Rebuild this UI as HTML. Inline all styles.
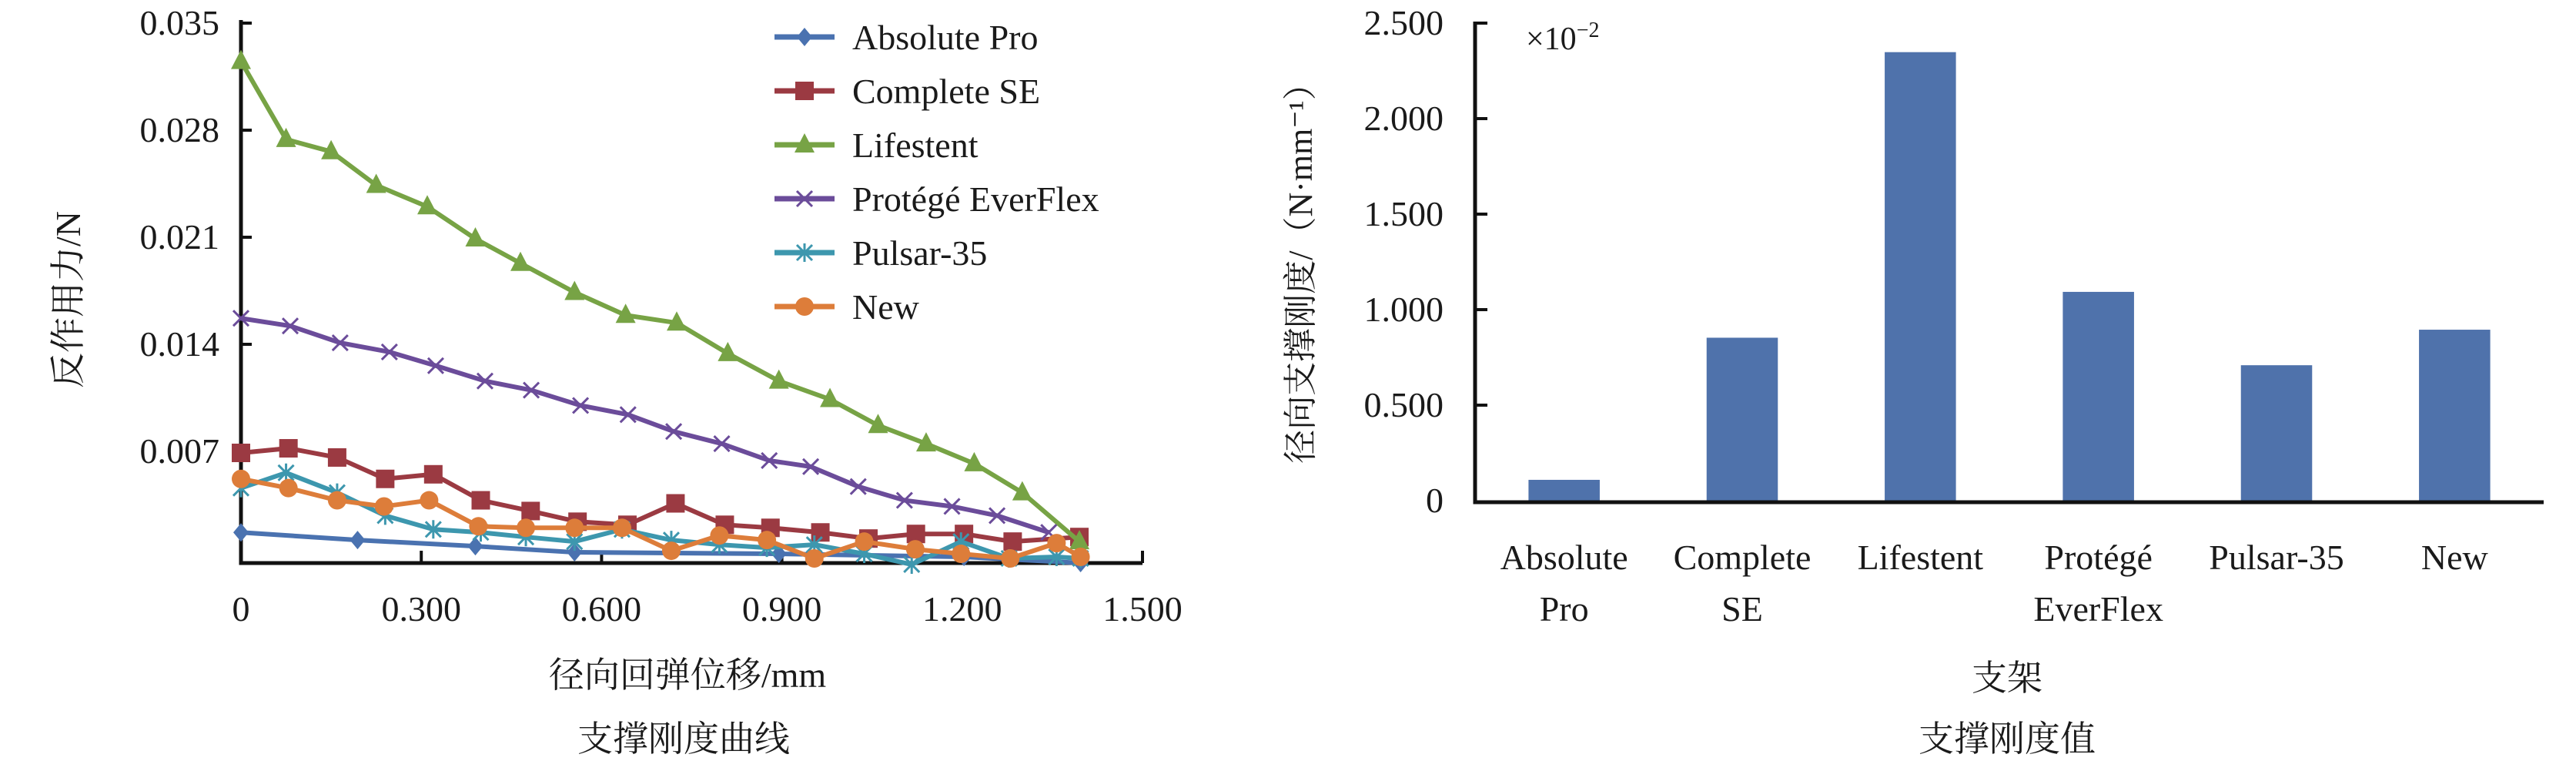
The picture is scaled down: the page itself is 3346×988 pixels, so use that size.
<!DOCTYPE html>
<html><head><meta charset="utf-8">
<style>
html,body{margin:0;padding:0;background:#fff;}
svg{display:block;}
text{font-family:"Liberation Serif","Noto Serif CJK SC",serif;fill:#1a1a1a;}
</style></head>
<body>
<svg id="fig" width="3346" height="988" viewBox="0 0 3346 988" xmlns="http://www.w3.org/2000/svg">
<g id="left"></g>
<g id="right"></g>
</svg>
<script>
// ---- Left chart data ----
const xTickLabels = ["0","0.300","0.600","0.900","1.200","1.500"];
const xTickValues = [0,0.3,0.6,0.9,1.2,1.5];
const yTickLabels = ["0.007","0.014","0.021","0.028","0.035"];
const yTickValues = [0.007,0.014,0.021,0.028,0.035];
const seriesNames = ["Absolute Pro","Complete SE","Lifestent","Protégé EverFlex","Pulsar-35","New"];
const absX = [0,0.194,0.39,0.555,0.895,1.203,1.397];
const absY = [0.0017,0.0012,0.0008,0.0004,0.0003,0.0001,-0.0003];
const compX = [0,0.079,0.16,0.24,0.32,0.399,0.482,0.56,0.643,0.723,0.805,0.881,0.964,1.044,1.123,1.203,1.284,1.395];
const compY = [0.0069,0.0072,0.0066,0.0052,0.0055,0.0038,0.0031,0.0024,0.0022,0.0036,0.0022,0.002,0.0017,0.0013,0.0016,0.0016,0.0011,0.0014];
const lifeX = [0,0.075,0.15,0.225,0.31,0.39,0.465,0.555,0.64,0.725,0.81,0.895,0.98,1.06,1.14,1.22,1.3,1.395];
const lifeY = [0.0325,0.0274,0.0266,0.0244,0.023,0.0209,0.0193,0.0174,0.0159,0.0154,0.0134,0.0116,0.0104,0.0087,0.0075,0.0062,0.0043,0.0011];
const protX = [0,0.082,0.165,0.247,0.324,0.406,0.483,0.565,0.644,0.72,0.8,0.879,0.948,1.027,1.104,1.183,1.258,1.344];
const protY = [0.0157,0.0152,0.0141,0.0135,0.0126,0.0116,0.011,0.01,0.0094,0.0083,0.0075,0.0064,0.006,0.0047,0.0038,0.0034,0.0028,0.0017];
const pulsX = [0,0.075,0.16,0.24,0.32,0.399,0.474,0.555,0.634,0.716,0.796,0.875,0.954,1.037,1.116,1.198,1.278,1.357,1.397];
const pulsY = [0.0046,0.0056,0.0043,0.0028,0.0019,0.0017,0.0014,0.0011,0.0019,0.0012,0.0009,0.0007,0.0009,0.0003,-0.0004,0.0011,0,0.0001,0];
const newX = [0,0.079,0.16,0.238,0.313,0.395,0.474,0.555,0.634,0.716,0.796,0.875,0.954,1.037,1.122,1.198,1.28,1.357,1.397];
const newY = [0.0052,0.0046,0.0038,0.0034,0.0038,0.0021,0.002,0.002,0.002,0.0005,0.0015,0.0012,0,0.0011,0.0006,0.0003,0,0.001,0.0001];

// ---- Right chart data ----
const barCategories = [["Absolute","Pro"],["Complete","SE"],["Lifestent",""],["Protégé","EverFlex"],["Pulsar-35",""],["New",""]];
const barValues = [0.109,0.853,2.348,1.093,0.709,0.895];
const barTickLabels = ["0","0.500","1.000","1.500","2.000","2.500"];
const barTickValues = [0,0.5,1,1.5,2,2.5];

const NS="http://www.w3.org/2000/svg";
function mk(parent,tag,attrs,txt){const e=document.createElementNS(NS,tag);for(const k in attrs)e.setAttribute(k,attrs[k]);if(txt!==undefined)e.textContent=txt;parent.appendChild(e);return e;}

// ---- Left chart ----
const L=document.getElementById('left');
const x0=313,x1=1484,y0=725,yTop=30;
const sx=v=>x0+v/1.5*(x1-x0);
const sy=v=>y0-v/0.035*(y0-yTop);
let ax=mk(L,'path',{d:`M${x0},${yTop-4} V731 H${x1}`,stroke:'#111','stroke-width':5,fill:'none'});


yTickValues.forEach((v,i)=>{
  let t=mk(L,'line',{x1:x0,x2:x0+14,y1:sy(v),y2:sy(v),stroke:'#111','stroke-width':4});
  
  
  let l=mk(L,'text',{x:285,y:sy(v)+15,'text-anchor':'end','font-size':46},yTickLabels[i]);
  
  
});
xTickValues.forEach((v,i)=>{
  if(v>0){let t=mk(L,'line',{x1:sx(v),x2:sx(v),y1:731,y2:715,stroke:'#111','stroke-width':4});
  
  }
  let l=mk(L,'text',{x:sx(v),y:806,'text-anchor':'middle','font-size':46},xTickLabels[i]);
  
  
});
let yl=mk(L,'text',{x:0,y:0,'text-anchor':'middle','font-size':46,transform:'translate(104,389) rotate(-90)'},'反作用力/N');


let xl=mk(L,'text',{x:893,y:892,'text-anchor':'middle','font-size':46},'径向回弹位移/mm');


let lt=mk(L,'text',{x:888,y:975,'text-anchor':'middle','font-size':46},'支撑刚度曲线');



const colors=['#4a72b0','#9b3a42','#77a345','#6b4c9a','#3d97ae','#dd7d3a'];
const markers=['diamond','square','triangle','x','star','circle'];
const allX=[absX,compX,lifeX,protX,pulsX,newX], allY=[absY,compY,lifeY,protY,pulsY,newY];
function marker(g,type,x,y,c){
  let e;
  if(type==='diamond') e=mk(g,'path',{d:`M${x},${y-12} L${x+10},${y} L${x},${y+12} L${x-10},${y} Z`,fill:c});
  else if(type==='square') e=mk(g,'rect',{x:x-12,y:y-12,width:24,height:24,fill:c});
  else if(type==='triangle') e=mk(g,'path',{d:`M${x},${y-15} L${x+13},${y+10} L${x-13},${y+10} Z`,fill:c});
  else if(type==='x') e=mk(g,'path',{d:`M${x-10},${y-10} L${x+10},${y+10} M${x-10},${y+10} L${x+10},${y-10}`,stroke:c,'stroke-width':3});
  else if(type==='star') e=mk(g,'path',{d:`M${x-10},${y-10} L${x+10},${y+10} M${x-10},${y+10} L${x+10},${y-10} M${x},${y-12} L${x},${y+12}`,stroke:c,'stroke-width':3});
  else e=mk(g,'circle',{cx:x,cy:y,r:12,fill:c});
  return e;
}
seriesNames.forEach((n,s)=>{
  const g=mk(L,'g',{});
  
  
  const pts=allX[s].map((v,i)=>sx(v)+','+sy(allY[s][i])).join(' ');
  let pl=mk(g,'polyline',{points:pts,fill:'none',stroke:colors[s],'stroke-width':6,'stroke-linejoin':'round'});
  
  
  allX[s].forEach((v,i)=>{
    let m=marker(g,markers[s],sx(v),sy(allY[s][i]),colors[s]);
    
    
  });
  // legend
  const lg=mk(L,'g',{});
  
  
  const ly=48+s*70;
  mk(lg,'line',{x1:1006,x2:1084,y1:ly,y2:ly,stroke:colors[s],'stroke-width':7});
  marker(lg,markers[s],1045,ly,colors[s]);
  mk(lg,'text',{x:1107,y:ly+16,'font-size':46},n);
});

// ---- Right chart ----
const R=document.getElementById('right');
const bx0=1916,bx1=3304,by0=650,byTop=30;
const bsy=v=>by0-v/2.5*(by0-byTop);
const band=(bx1-bx0)/barCategories.length;
barValues.forEach((v,i)=>{
  const cx=bx0+band*(i+0.5), w=band*0.4;
  let r=mk(R,'rect',{x:cx-w/2,y:bsy(v),width:w,height:by0-bsy(v),fill:'#4f72ab'});
  
  
  let t=mk(R,'text',{x:cx,y:739,'text-anchor':'middle','font-size':46},barCategories[i][0]);
  
  
  if(barCategories[i][1]){let t2=mk(R,'text',{x:cx,y:806,'text-anchor':'middle','font-size':46},barCategories[i][1]);
  
  }
});
let rax=mk(R,'path',{d:`M${bx0},${byTop-2} V${by0+2} H${bx1}`,stroke:'#111','stroke-width':5,fill:'none'});


barTickValues.forEach((v,i)=>{
  if(v>0){let t=mk(R,'line',{x1:bx0,x2:bx0+16,y1:bsy(v),y2:bsy(v),stroke:'#111','stroke-width':4});
  
  }
  let l=mk(R,'text',{x:1875,y:bsy(v)+15,'text-anchor':'end','font-size':46},barTickLabels[i]);
  
  
});
let ex=mk(R,'text',{x:1982,y:64,'font-size':42},'×10');


mk(ex,'tspan',{dy:-16,'font-size':28},'−2');
let ryl=mk(R,'text',{x:0,y:0,'text-anchor':'middle','font-size':44,transform:'translate(1704,344) rotate(-90)'},'径向支撑刚度/（N·mm⁻¹）');


let rxl=mk(R,'text',{x:2607,y:896,'text-anchor':'middle','font-size':46},'支架');


let rt=mk(R,'text',{x:2607,y:975,'text-anchor':'middle','font-size':46},'支撑刚度值');


</script>
</body></html>
